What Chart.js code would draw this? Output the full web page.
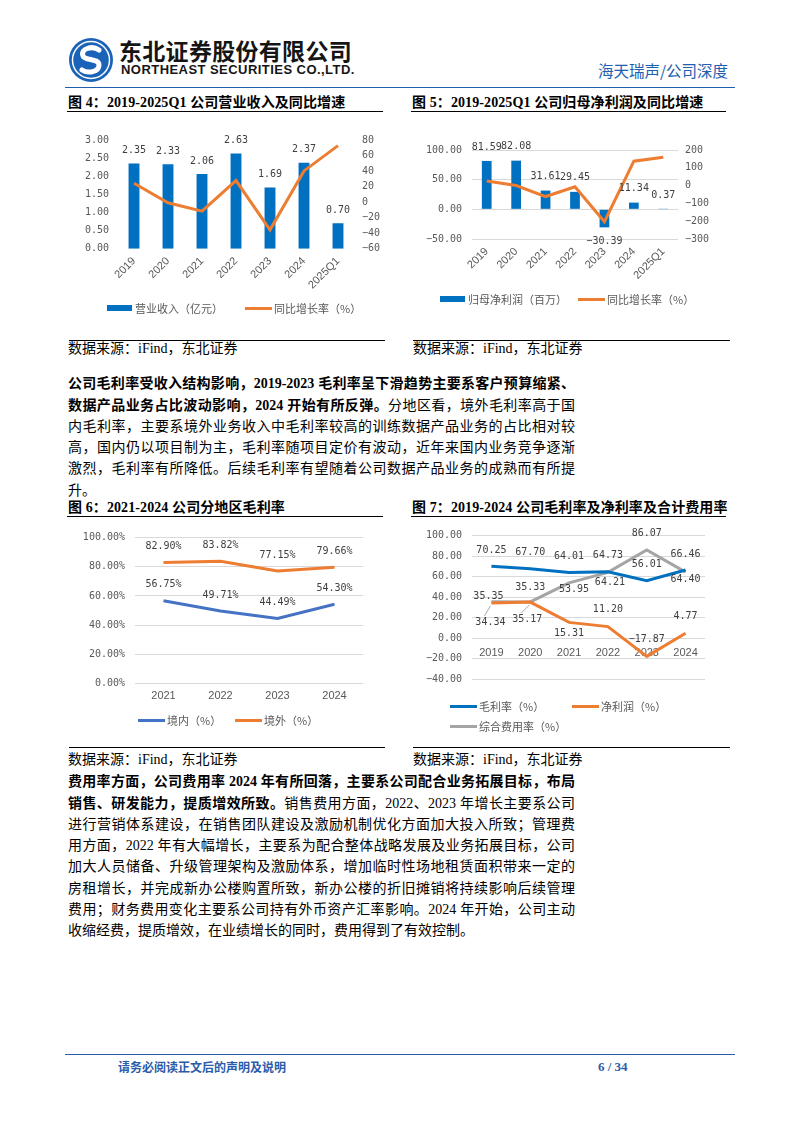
<!DOCTYPE html>
<html><head><meta charset="utf-8">
<script src="https://cdn.jsdelivr.net/npm/chart.js@4.4.1/dist/chart.umd.min.js"></script>
<style>
html,body{margin:0;padding:0;background:#fff;}
#page{position:relative;width:794px;height:1123px;overflow:hidden;font-family:"Liberation Serif","Noto Sans CJK SC",serif;color:#000;}
.abs{position:absolute;white-space:nowrap;}
.hl{position:absolute;height:0;}
.title{position:absolute;font-weight:700;font-size:14px;line-height:18px;letter-spacing:0.1px;white-space:nowrap;}
.src{position:absolute;font-size:14px;line-height:18px;white-space:nowrap;}
.para{position:absolute;left:68px;width:507px;}
.para div{height:21.3px;line-height:21.3px;font-size:14px;text-align:justify;text-align-last:justify;white-space:nowrap;}
.para div.last{text-align-last:left;}
.para b{font-weight:700;}
canvas{position:absolute;}
.lg{position:absolute;font-family:"Noto Sans CJK SC",sans-serif;font-size:11px;color:#595959;line-height:14px;white-space:nowrap;}
.mk{position:absolute;}
</style></head>
<body><div id="page">

<!-- header -->
<svg class="abs" style="left:68px;top:37px" width="46" height="46" viewBox="0 0 46 46">
  <circle cx="23" cy="23" r="22" fill="#1b63b9"/>
  <circle cx="23" cy="23" r="18.5" fill="none" stroke="#fff" stroke-width="1.5"/>
  <path d="M31 13 C 24 8, 12 12, 15 19 C 17 24, 31 21, 31 28 C 31 35, 20 37, 14 33" stroke="#fff" stroke-width="5" fill="none" stroke-linecap="round"/>
</svg>
<div class="abs" style="left:119px;top:36px;font-family:'Noto Sans CJK SC';font-weight:700;font-size:23px;line-height:28px;letter-spacing:0.3px;color:#151515;">东北证券股份有限公司</div>
<div class="abs" style="left:121px;top:62px;font-family:'Liberation Sans';font-weight:700;font-size:13px;line-height:15px;letter-spacing:0.45px;color:#151515;">NORTHEAST SECURITIES CO.,LTD.</div>
<div class="abs" style="left:598px;top:60px;font-family:'Noto Sans CJK SC';font-size:15.5px;line-height:20px;color:#2060b0;">海天瑞声/公司深度</div>
<div class="hl" style="left:65px;top:86.5px;width:670px;border-top:1.5px solid #1f5fae;"></div>

<!-- titles row 1 -->
<div class="title" style="left:68px;top:93.5px;">图 4：2019-2025Q1 公司营业收入及同比增速</div>
<div class="hl" style="left:67px;top:110.5px;width:316px;border-top:1.5px solid #000;"></div>
<div class="title" style="left:412px;top:93.5px;">图 5：2019-2025Q1 公司归母净利润及同比增速</div>
<div class="hl" style="left:411px;top:110.5px;width:315px;border-top:1.5px solid #000;"></div>

<canvas id="c4" width="330" height="180" style="left:65px;top:115px;width:330px;height:180px"></canvas>
<canvas id="c5" width="318" height="180" style="left:412px;top:115px;width:318px;height:180px"></canvas>

<div class="hl" style="left:69px;top:340px;width:316px;border-top:1px solid #000;"></div>
<div class="hl" style="left:413px;top:340px;width:317px;border-top:1px solid #000;"></div>
<div class="src" style="left:68px;top:340px;">数据来源：iFind，东北证券</div>
<div class="src" style="left:413px;top:340px;">数据来源：iFind，东北证券</div>

<div class="para" style="top:373.3px;">
<div><b>公司毛利率受收入结构影响，2019-2023 毛利率呈下滑趋势主要系客户预算缩紧、</b></div>
<div><b>数据产品业务占比波动影响，2024 开始有所反弹。</b>分地区看，境外毛利率高于国</div>
<div>内毛利率，主要系境外业务收入中毛利率较高的训练数据产品业务的占比相对较</div>
<div>高，国内仍以项目制为主，毛利率随项目定价有波动，近年来国内业务竞争逐渐</div>
<div>激烈，毛利率有所降低。后续毛利率有望随着公司数据产品业务的成熟而有所提</div>
<div class="last">升。</div>
</div>

<!-- titles row 2 -->
<div class="title" style="left:68px;top:499px;">图 6：2021-2024 公司分地区毛利率</div>
<div class="hl" style="left:67px;top:516px;width:316px;border-top:1.5px solid #000;"></div>
<div class="title" style="left:412px;top:499px;">图 7：2019-2024 公司毛利率及净利率及合计费用率</div>
<div class="hl" style="left:411px;top:516px;width:315px;border-top:1.5px solid #000;"></div>

<canvas id="c6" width="330" height="195" style="left:65px;top:515px;width:330px;height:195px"></canvas>
<canvas id="c7" width="318" height="180" style="left:412px;top:515px;width:318px;height:180px"></canvas>

<div class="hl" style="left:69px;top:746.5px;width:316px;border-top:1px solid #000;"></div>
<div class="hl" style="left:413px;top:746.5px;width:317px;border-top:1px solid #000;"></div>
<div class="src" style="left:68px;top:751px;">数据来源：iFind，东北证券</div>
<div class="src" style="left:413px;top:751px;">数据来源：iFind，东北证券</div>

<div class="para" style="top:771.3px;">
<div><b>费用率方面，公司费用率 2024 年有所回落，主要系公司配合业务拓展目标，布局</b></div>
<div><b>销售、研发能力，提质增效所致。</b>销售费用方面，2022、2023 年增长主要系公司</div>
<div>进行营销体系建设，在销售团队建设及激励机制优化方面加大投入所致；管理费</div>
<div>用方面，2022 年有大幅增长，主要系为配合整体战略发展及业务拓展目标，公司</div>
<div>加大人员储备、升级管理架构及激励体系，增加临时性场地租赁面积带来一定的</div>
<div>房租增长，并完成新办公楼购置所致，新办公楼的折旧摊销将持续影响后续管理</div>
<div>费用；财务费用变化主要系公司持有外币资产汇率影响。2024 年开始，公司主动</div>
<div class="last">收缩经费，提质增效，在业绩增长的同时，费用得到了有效控制。</div>
</div>

<!-- footer -->
<div class="hl" style="left:65px;top:1053.5px;width:670px;border-top:1.5px solid #2a5caa;"></div>
<div class="abs" style="left:118px;top:1059px;font-family:'Noto Sans CJK SC';font-weight:700;font-size:12px;line-height:16px;color:#2a5caa;">请务必阅读正文后的声明及说明</div>
<div class="abs" style="left:598px;top:1058px;font-family:'Liberation Serif';font-weight:700;font-size:13px;line-height:18px;color:#2a5caa;">6 / 34</div>

<div id="legends"></div>
</div>

<script>
// ---------------- data ----------------
const years4 = ['2019','2020','2021','2022','2023','2024','2025Q1'];
const revenue4 = [2.35, 2.33, 2.06, 2.63, 1.69, 2.37, 0.70];          // 营业收入（亿元）
const revGrowth4 = [24.3, -0.9, -11.6, 27.7, -35.7, 40.2, 72.7];      // 同比增长率（%）
const revTicks4 = [0, 3, 0.5];
const growthTicks4 = [-60, 80, 20];

const years5 = ['2019','2020','2021','2022','2023','2024','2025Q1'];
const profit5 = [81.59, 82.08, 31.61, 29.45, -30.39, 11.34, 0.37];    // 归母净利润（百万）
const profitGrowth5 = [26, 0.6, -61.5, -6.8, -203.2, 137.3, 159];     // 同比增长率（%）
const profitTicks5 = [-50, 100, 50];
const growthTicks5 = [-300, 200, 100];

const years6 = ['2021','2022','2023','2024'];
const domestic6 = [56.75, 49.71, 44.49, 54.30];   // 境内（%）
const overseas6 = [82.90, 83.82, 77.15, 79.66];   // 境外（%）
const ticks6 = [0, 100, 20];

const years7 = ['2019','2020','2021','2022','2023','2024'];
const gross7 = [70.25, 67.70, 64.01, 64.73, 56.01, 66.46];     // 毛利率（%）
const net7 = [34.34, 35.17, 15.31, 11.20, -17.87, 4.77];       // 净利润（%）
const expense7 = [35.35, 35.33, 53.95, 64.21, 86.07, 64.40];   // 综合费用率（%）
const ticks7 = [-40, 100, 20];

// ---------------- styles ----------------
const BLUE = '#0070C0', ORANGE = '#ED7D31', GRAY = '#A5A5A5', BLUE6 = '#4472C4';
const TICK_COLOR = '#595959', LABEL_COLOR = '#404040', GRID = '#D9D9D9';
const MONO = {family: 'DejaVu Sans Mono', size: 10};
const SANS = {family: 'Liberation Sans', size: 11};

const fmtNum = v => { const n = Number(v); const s = Math.abs(n).toFixed(2); return (n < 0 ? '\u2212' : '') + s; };
const fmtInt = v => { const n = Math.round(Number(v)); return (n < 0 ? '\u2212' : '') + Math.abs(n); };
const fmtPct = v => fmtNum(v) + '%';

// label placement (styling) for fig 7
const grossDy7 = [-16, -16, -16, -16, -16, -16];
const netDy7 = [19, 17, 11, -17, -17, -17];
const netDx7 = [-1, -3, 0, 0, 0, 0];
const netLeader7 = [true, true, false, false, false, false];
const expDy7 = [-5, -14, 7, 10, -17, 7];
const expDx7 = [-3, 0, 5, 2, 0, 0];

const valueLabels = {
  id: 'valueLabels',
  afterDatasetsDraw(chart) {
    const ctx = chart.ctx;
    chart.data.datasets.forEach((ds, i) => {
      const cfg = ds.vlabel;
      if (!cfg) return;
      const meta = chart.getDatasetMeta(i);
      ctx.save();
      ctx.font = `${MONO.size}px "${MONO.family}"`;
      ctx.fillStyle = LABEL_COLOR;
      ctx.textAlign = 'center';
      ctx.textBaseline = 'middle';
      meta.data.forEach((el, j) => {
        const v = ds.data[j];
        let x = el.x + (cfg.dx ? cfg.dx[j] : 0);
        let y;
        if (cfg.bar) y = v >= 0 ? el.y - cfg.off : el.y + cfg.off;
        else y = el.y + cfg.dy[j];
        if (cfg.leader && cfg.leader[j]) {
          ctx.save();
          ctx.strokeStyle = '#A6A6A6'; ctx.lineWidth = 1;
          ctx.beginPath(); ctx.moveTo(x - 6, y - 6); ctx.lineTo(el.x - 1, el.y + 3); ctx.stroke();
          ctx.restore();
        }
        ctx.fillText(cfg.fmt(v), x, y);
      });
      ctx.restore();
    });
  }
};

function yScale(pos, t, fmt, width, pad, grid) {
  return {
    position: pos, min: t[0], max: t[1],
    ticks: {stepSize: t[2], callback: v => fmt(v), font: MONO, color: TICK_COLOR, padding: pad},
    grid: grid ? {color: GRID, lineWidth: 1, drawTicks: false} : {display: false, drawTicks: false},
    border: {display: false},
    afterFit: s => { s.width = width; }
  };
}
function xScale(height, rotate, pad, extra) {
  return Object.assign({
    offset: true,
    grid: {display: false, drawTicks: false},
    border: {display: false},
    ticks: {font: SANS, color: TICK_COLOR, padding: pad, maxRotation: rotate, minRotation: rotate, autoSkip: false},
    afterFit: s => { s.height = height; }
  }, extra || {});
}
const baseOpts = (padding) => ({
  responsive: false, animation: false, devicePixelRatio: 1,
  layout: {padding},
  plugins: {legend: {display: false}, tooltip: {enabled: false}}
});

// Fig 4
new Chart(document.getElementById('c4'), {
  data: {
    labels: years4,
    datasets: [
      {type: 'line', label: '同比增长率（%）', data: revGrowth4, yAxisID: 'y1', borderColor: ORANGE, borderWidth: 3, pointRadius: 0, tension: 0, order: 0},
      {type: 'bar', label: '营业收入（亿元）', data: revenue4, yAxisID: 'y', backgroundColor: BLUE, barPercentage: 0.32, categoryPercentage: 1, order: 1,
       vlabel: {bar: true, off: 13, fmt: fmtNum}}
    ]
  },
  options: Object.assign(baseOpts({top: 25, left: 0, right: 0, bottom: 0}), {
    scales: {
      x: xScale(46.3, 45, 6),
      y: yScale('left', revTicks4, fmtNum, 52, 8, false),
      y1: yScale('right', growthTicks4, fmtInt, 40, 7, false)
    }
  }),
  plugins: [valueLabels]
});

// Fig 5
new Chart(document.getElementById('c5'), {
  data: {
    labels: years5,
    datasets: [
      {type: 'line', label: '同比增长率（%）', data: profitGrowth5, yAxisID: 'y1', borderColor: ORANGE, borderWidth: 3, pointRadius: 0, tension: 0, order: 0},
      {type: 'bar', label: '归母净利润（百万）', data: profit5, yAxisID: 'y', backgroundColor: BLUE, barPercentage: 0.33, categoryPercentage: 1, order: 1,
       vlabel: {bar: true, off: 14, fmt: fmtNum}}
    ]
  },
  options: Object.assign(baseOpts({top: 35, left: 0, right: 0, bottom: 0}), {
    scales: {
      x: xScale(56, 45, 6),
      y: yScale('left', profitTicks5, fmtNum, 60, 10, true),
      y1: yScale('right', growthTicks5, fmtInt, 52, 7, false)
    }
  }),
  plugins: [valueLabels]
});

// Fig 6
new Chart(document.getElementById('c6'), {
  type: 'line',
  data: {
    labels: years6,
    datasets: [
      {label: '境内（%）', data: domestic6, borderColor: BLUE6, borderWidth: 3, pointRadius: 0, tension: 0,
       vlabel: {dy: [-16, -16, -16, -16], fmt: fmtPct}},
      {label: '境外（%）', data: overseas6, borderColor: ORANGE, borderWidth: 3, pointRadius: 0, tension: 0,
       vlabel: {dy: [-16, -16, -16, -16], fmt: fmtPct}}
    ]
  },
  options: Object.assign(baseOpts({top: 22.7, left: 0, right: 32, bottom: 0}), {
    scales: {
      x: xScale(26.7, 0, 6),
      y: yScale('left', ticks6, fmtPct, 70, 10, true)
    }
  }),
  plugins: [valueLabels]
});

// Fig 7
new Chart(document.getElementById('c7'), {
  type: 'line',
  data: {
    labels: years7,
    datasets: [
      {label: '毛利率（%）', data: gross7, borderColor: BLUE, borderWidth: 3, pointRadius: 0, tension: 0,
       vlabel: {dy: grossDy7, fmt: fmtNum}},
      {label: '净利润（%）', data: net7, borderColor: ORANGE, borderWidth: 3, pointRadius: 0, tension: 0,
       vlabel: {dy: netDy7, dx: netDx7, leader: netLeader7, fmt: fmtNum}},
      {label: '综合费用率（%）', data: expense7, borderColor: GRAY, borderWidth: 3, pointRadius: 0, tension: 0,
       vlabel: {dy: expDy7, dx: expDx7, fmt: fmtNum}}
    ]
  },
  options: Object.assign(baseOpts({top: 20.7, left: 0, right: 25, bottom: 14.3}), {
    scales: {
      x: xScale(0, 0, 8, {position: {y: 0}}),
      y: yScale('left', ticks7, fmtNum, 60, 10, true)
    }
  }),
  plugins: [valueLabels]
});

// ---------------- legends (HTML) ----------------
const legendItems = [
  {x: 107, y: 308, type: 'rect', color: BLUE, text: '营业收入（亿元）'},
  {x: 245, y: 308, type: 'line', color: ORANGE, text: '同比增长率（%）'},
  {x: 440, y: 299, type: 'rect', color: BLUE, text: '归母净利润（百万）'},
  {x: 578, y: 299, type: 'line', color: ORANGE, text: '同比增长率（%）'},
  {x: 138, y: 720, type: 'line', color: BLUE6, text: '境内（%）'},
  {x: 235, y: 720, type: 'line', color: ORANGE, text: '境外（%）'},
  {x: 450, y: 706, type: 'line', color: BLUE, text: '毛利率（%）'},
  {x: 572, y: 706, type: 'line', color: ORANGE, text: '净利润（%）'},
  {x: 450, y: 726, type: 'line', color: GRAY, text: '综合费用率（%）'}
];
const lg = document.getElementById('legends');
legendItems.forEach(it => {
  const m = document.createElement('div');
  m.className = 'mk';
  if (it.type === 'rect') {
    m.style.cssText = `left:${it.x}px;top:${it.y - 3}px;width:25px;height:6px;background:${it.color}`;
  } else {
    m.style.cssText = `left:${it.x}px;top:${it.y - 1.5}px;width:27px;height:3px;background:${it.color}`;
  }
  lg.appendChild(m);
  const t = document.createElement('div');
  t.className = 'lg';
  t.textContent = it.text;
  t.style.left = (it.x + (it.type === 'rect' ? 28 : 29)) + 'px';
  t.style.top = (it.y - 7) + 'px';
  lg.appendChild(t);
});
</script>
</body></html>
